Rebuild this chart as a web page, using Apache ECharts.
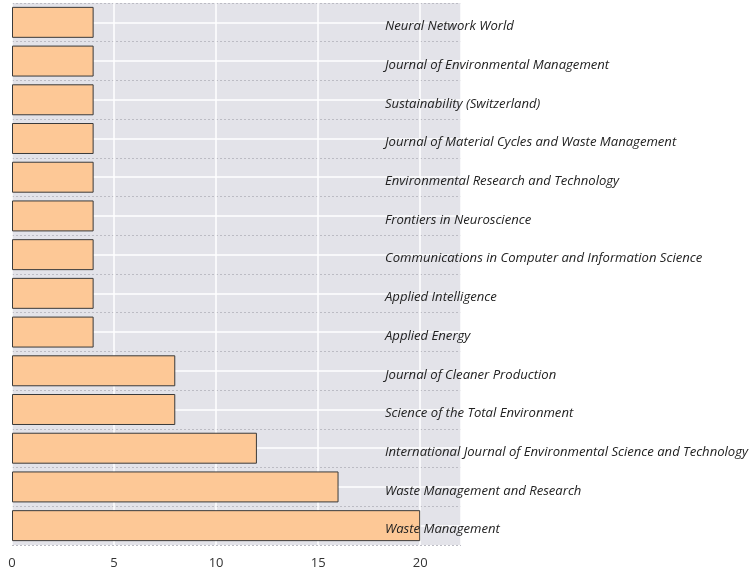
<!DOCTYPE html>
<html><head><meta charset="utf-8">
<script src="https://cdn.jsdelivr.net/npm/echarts@6/dist/echarts.min.js"></script>
<style>html,body{margin:0;padding:0;background:#fff}#c{width:751px;height:575px}</style>
</head><body><div id="c"></div>
<script>
const journals = [
  "Neural Network World",
  "Journal of Environmental Management",
  "Sustainability (Switzerland)",
  "Journal of Material Cycles and Waste Management",
  "Environmental Research and Technology",
  "Frontiers in Neuroscience",
  "Communications in Computer and Information Science",
  "Applied Intelligence",
  "Applied Energy",
  "Journal of Cleaner Production",
  "Science of the Total Environment",
  "International Journal of Environmental Science and Technology",
  "Waste Management and Research",
  "Waste Management"
];
const counts = [4, 4, 4, 4, 4, 4, 4, 4, 4, 8, 8, 12, 16, 20];
const xTicks = [0, 5, 10, 15, 20];

const chart = echarts.init(document.getElementById('c'));
chart.setOption({
  animation: false,
  grid: [
    { left: 12, right: 290, top: 3, bottom: 30, backgroundColor: '#e3e3e9', show: true, borderWidth: 0, outerBoundsMode: 'none', containLabel: false },
    { left: 12, right: 290, top: 7, bottom: 26, show: false, outerBoundsMode: 'none', containLabel: false }
  ],
  xAxis: [{
    type: 'value', gridIndex: 0, min: 0, max: 22, interval: 5,
    axisLine: { show: false }, axisTick: { show: false },
    splitLine: { lineStyle: { color: '#ffffff', width: 1.5 } },
    axisLabel: {
      color: '#333', fontFamily: 'Open Sans', fontSize: 13, margin: 12,
      formatter: v => xTicks.includes(v) ? String(v) : ''
    }
  }, {
    type: 'value', gridIndex: 1, min: 0, max: 22, show: false
  }],
  yAxis: [{
    type: 'category', gridIndex: 0, data: journals, inverse: true,
    axisLine: { show: false }, axisTick: { show: false }, axisLabel: { show: false },
    splitLine: { show: false }
  }, {
    type: 'value', gridIndex: 0, min: 0, max: journals.length, interval: 1,
    axisLine: { show: false }, axisTick: { show: false }, axisLabel: { show: false },
    splitLine: { show: true, lineStyle: { color: '#bcbcc4', type: [2, 2], width: 1 } },
    minorTick: { show: false, splitNumber: 2 },
    minorSplitLine: { show: true, lineStyle: { color: '#ffffff', width: 1.5 } }
  }, {
    type: 'category', gridIndex: 1, data: journals, inverse: true, position: 'right', z: 10,
    axisLine: { show: false }, axisTick: { show: false }, splitLine: { show: false },
    axisLabel: {
      inside: true, margin: 76, align: 'left', verticalAlign: 'middle',
      color: '#222', fontFamily: 'Open Sans', fontStyle: 'italic', fontSize: 13.1
    }
  }],
  series: [{
    type: 'bar', xAxisIndex: 0, yAxisIndex: 0, data: counts, barCategoryGap: '20%',
    itemStyle: { color: '#fdc896', borderColor: '#3a3a3a', borderWidth: 1 }
  }]
});
</script></body></html>
